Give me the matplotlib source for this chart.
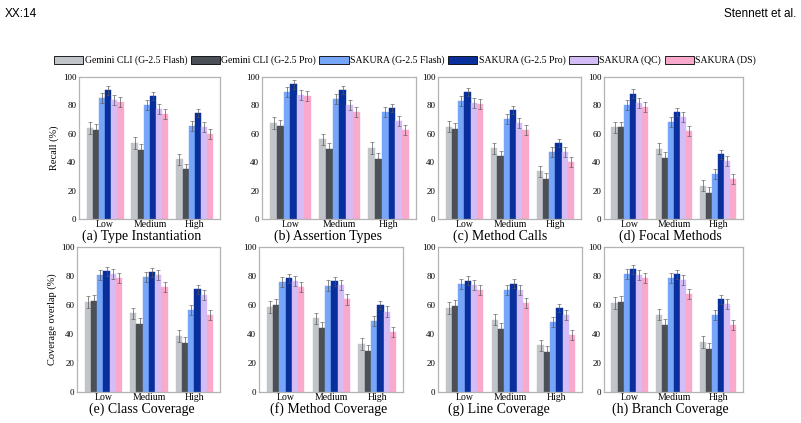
import matplotlib
matplotlib.use("Agg")
import matplotlib.pyplot as plt
import numpy as np
from matplotlib.patches import Patch

plt.rcParams['font.family'] = ['Liberation Serif', 'DejaVu Serif']

series = ["Gemini CLI (G-2.5 Flash)", "Gemini CLI (G-2.5 Pro)", "SAKURA (G-2.5 Flash)",
          "SAKURA (G-2.5 Pro)", "SAKURA (QC)", "SAKURA (DS)"]
colors = ["#c1c5ca", "#4b5056", "#77a5f7", "#082f9c", "#d4bdf7", "#f9a9cb"]
categories = ["Low", "Medium", "High"]

# values[level][series]
type_inst = [[64, 63, 85, 90.5, 83.5, 82.5],
             [53.5, 48.5, 80, 86.5, 77.5, 74],
             [42, 35, 65.5, 74.5, 65, 60]]
assertion = [[67.5, 65.5, 89.4, 94.8, 87.3, 86.8],
             [56, 49.4, 84.5, 91, 80.2, 75.3],
             [49.9, 42.3, 75.3, 78.1, 69, 63]]
method_calls = [[65.1, 63.3, 83, 89.5, 81.9, 80.7],
                [49.8, 44.2, 70.2, 76.7, 67.9, 63],
                [33.5, 28.4, 47, 53.5, 47, 40]]
focal = [[64.5, 64.5, 80.4, 88.2, 82, 79.2],
         [49.6, 43, 68, 75.2, 71.9, 61.9],
         [23.4, 18.4, 31.4, 45.6, 40.7, 27.9]]
class_cov = [[61.9, 63, 80.5, 83.3, 81.4, 78.4],
             [54.2, 47, 79.3, 82.6, 80.5, 72.3],
             [38.6, 34, 56.3, 70.7, 66.7, 53.3]]
method_cov = [[58.7, 60.3, 76.1, 78.4, 76.6, 72.5],
              [50.7, 44, 73.4, 76.4, 73.6, 63.8],
              [33, 28.4, 49, 60.1, 55.5, 41.5]]
line_cov = [[58, 59.6, 74.2, 76.7, 74, 70.3],
            [50, 43.6, 70.5, 74.7, 70.3, 61.6],
            [32.2, 27.6, 48.4, 58, 53.2, 39.5]]
branch_cov = [[61.2, 62.4, 81.6, 84.5, 80.9, 78.8],
              [53.4, 46.4, 78.8, 81.2, 77.4, 67.5],
              [34.6, 29.9, 52.9, 64, 60.9, 46.4]]
errors = [4, 4, 3.5, 3, 3.5, 3.5]

titles = ["(a) Type Instantiation", "(b) Assertion Types", "(c) Method Calls", "(d) Focal Methods",
          "(e) Class Coverage", "(f) Method Coverage", "(g) Line Coverage", "(h) Branch Coverage"]
panels = [type_inst, assertion, method_calls, focal, class_cov, method_cov, line_cov, branch_cov]

W, H = 801, 423
fig = plt.figure(figsize=(W / 100, H / 100), dpi=100)

# axes boxes in pixels: (left, right, top, bottom)
boxes = [(79, 220, 77, 219), (262, 416, 77, 219), (438, 581, 77, 219), (604, 743, 77, 219),
         (77, 220, 247, 392), (259, 403, 247, 392), (438, 582, 247, 392), (604, 743, 247, 392)]
title_pos = [(142, 236), (328, 236), (500, 236), (670, 236),
             (142, 409), (329, 409), (499, 409), (670, 409)]

bw = 0.137
x = np.arange(len(categories))
for i, (data, box) in enumerate(zip(panels, boxes)):
    l, r, t, b = box
    ax = fig.add_axes([l / W, 1 - b / H, (r - l) / W, (b - t) / H])
    arr = np.array(data)
    for s in range(len(series)):
        off = (s - 2.5) * bw
        ax.bar(x + off, arr[:, s], width=bw, color=colors[s], edgecolor=colors[s], linewidth=0.3,
               yerr=errors[s], error_kw=dict(ecolor="#555555", elinewidth=0.7, capsize=1.2,
                                              capthick=0.6, alpha=0.7), zorder=2)
    ax.set_ylim(0, 100)
    ax.set_xlim(-0.58, 2.56)
    ax.set_yticks([0, 20, 40, 60, 80, 100])
    ax.set_xticks(x)
    ax.set_xticklabels(categories, fontsize=7)
    ax.tick_params(axis='y', labelsize=6.5, length=0, pad=2)
    ax.tick_params(axis='x', length=0, pad=1)
    for sp in ax.spines.values():
        sp.set_color("#b3b3b3")
        sp.set_linewidth(0.9)
    if i == 0:
        ax.set_ylabel("Recall (%)", fontsize=7.5, labelpad=3)
    if i == 4:
        ax.set_ylabel("Coverage overlap (%)", fontsize=7.5, labelpad=3)
    tx, ty = title_pos[i]
    fig.text(tx / W, 1 - ty / H, titles[i], fontsize=10, ha='center', va='center')

handles = [Patch(facecolor=c, edgecolor='black', linewidth=0.6) for c in colors]
fig.legend(handles, series, loc='center', bbox_to_anchor=(405 / W, 1 - 60.5 / H), ncol=6,
           frameon=False, fontsize=7, handlelength=3.0, handleheight=0.9, handletextpad=0.15,
           columnspacing=0.35, borderpad=0)

fig.text(5 / W, 1 - 14 / H, "XX:14", fontsize=8.5, ha='left', va='center',
         family=['Liberation Sans', 'DejaVu Sans'])
fig.text(796 / W, 1 - 14 / H, "Stennett et al.", fontsize=8.5, ha='right', va='center',
         family=['Liberation Sans', 'DejaVu Sans'])

fig.savefig("out.png", dpi=100)
